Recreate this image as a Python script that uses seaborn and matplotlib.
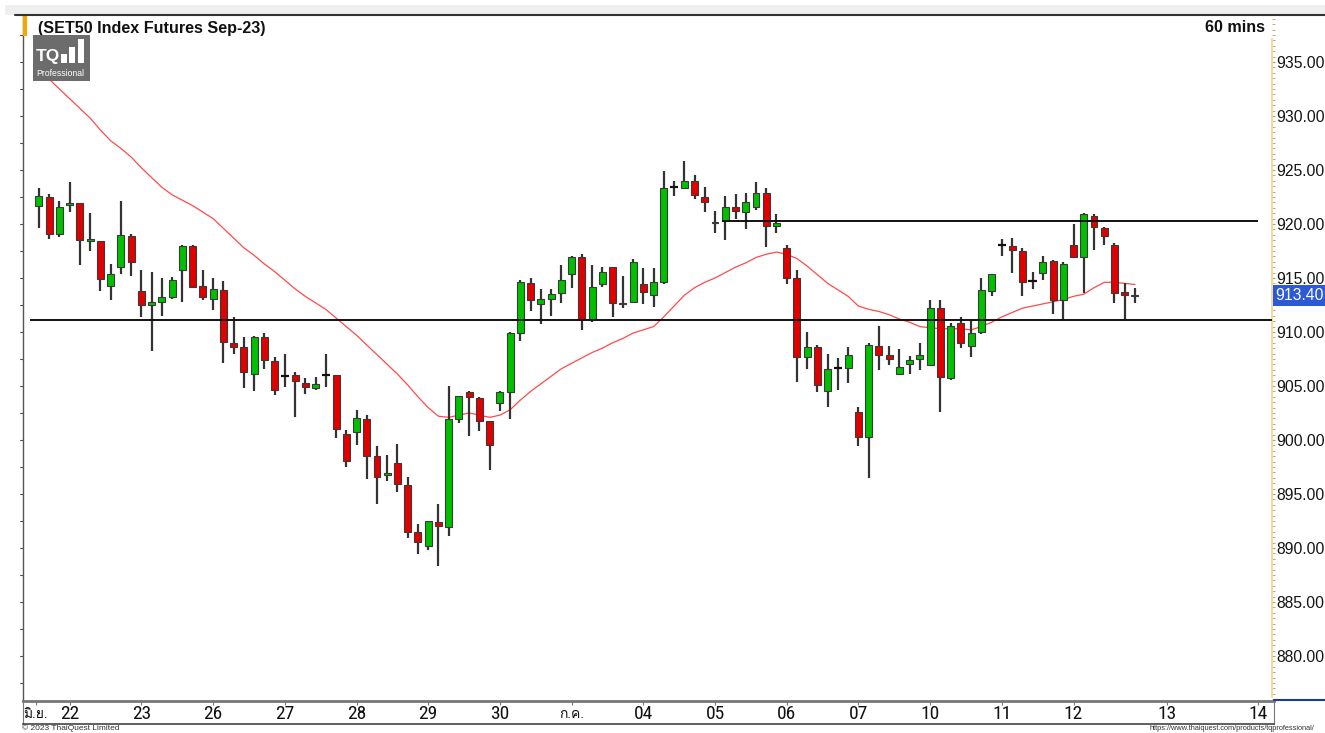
import numpy as np
import pandas as pd
import seaborn as sns
import matplotlib
matplotlib.use("Agg")
import matplotlib.pyplot as plt
from matplotlib import font_manager
from matplotlib.ft2font import FT2Font
from matplotlib.patches import Rectangle
from matplotlib.lines import Line2D
import matplotlib.transforms as mtransforms

# ---------------- data ----------------
opens = [921.7, 922.5, 919.1, 921.8, 921.9, 918.4, 918.4, 914.3, 916.0, 918.9,
         913.8, 912.5, 912.8, 913.2, 915.7, 918.0, 914.3, 913.1, 913.9, 909.0,
         908.6, 906.1, 909.5, 907.3, 905.9, 906.0, 905.3, 904.8, 906.0, 906.0,
         900.6, 900.7, 901.9, 898.5, 896.8, 897.9, 895.8, 891.5, 890.2, 892.4,
         891.9, 901.9, 904.4, 903.9, 901.8, 903.4, 904.4, 909.9, 914.5, 912.6,
         913.1, 913.6, 915.4, 916.9, 911.2, 914.4, 916.0, 912.6, 912.8, 914.4,
         913.4, 914.6, 923.4, 923.3, 924.0, 922.5, 920.1, 920.3, 921.6, 921.1,
         921.6, 922.9, 919.8, 917.8, 915.0, 907.7, 908.6, 904.5, 906.7, 906.7,
         902.6, 900.3, 908.7, 907.9, 906.1, 907.0, 907.5, 906.9, 912.2, 905.7,
         910.8, 908.7, 910.0, 913.8, 918.1, 918.0, 917.5, 914.7, 915.5, 916.6,
         913.0, 918.1, 916.9, 920.7, 919.6, 918.1, 913.7, 913.3]
highs = [923.3, 922.8, 922.1, 923.9, 921.9, 921.0, 918.4, 916.3, 922.1, 919.1,
         915.7, 915.6, 915.0, 915.1, 918.1, 918.1, 915.7, 915.0, 914.7, 911.4,
         909.5, 909.6, 909.9, 907.7, 908.0, 906.3, 905.7, 905.8, 908.0, 906.0,
         900.9, 902.8, 902.3, 899.4, 898.6, 899.6, 896.6, 892.2, 892.5, 894.1,
         905.0, 904.1, 904.5, 904.0, 901.8, 904.5, 910.0, 914.8, 915.0, 914.0,
         914.0, 916.2, 917.0, 917.2, 916.2, 916.0, 916.0, 915.2, 916.8, 915.9,
         915.9, 924.9, 924.0, 925.8, 924.5, 923.4, 921.2, 922.6, 922.8, 922.9,
         923.9, 923.3, 920.9, 918.1, 915.7, 910.0, 908.8, 908.0, 907.6, 908.6,
         903.1, 909.0, 910.6, 908.7, 908.4, 907.8, 909.0, 913.0, 913.0, 910.8,
         911.4, 911.1, 915.0, 915.4, 918.6, 918.7, 917.8, 915.6, 917.0, 916.7,
         916.5, 920.0, 921.0, 920.9, 919.7, 918.2, 914.5, 914.1]
lows = [919.6, 918.6, 918.8, 921.1, 916.2, 917.5, 913.8, 913.0, 915.4, 915.2,
        911.4, 908.2, 911.5, 913.1, 912.8, 914.2, 913.0, 912.0, 907.1, 908.0,
        904.8, 904.5, 906.6, 904.2, 904.9, 902.1, 904.3, 904.6, 904.9, 900.2,
        897.5, 899.5, 896.4, 894.1, 896.2, 895.2, 890.9, 889.4, 889.8, 888.3,
        891.1, 901.6, 900.4, 900.8, 897.2, 902.7, 901.9, 909.2, 911.9, 910.7,
        911.5, 912.7, 914.1, 910.2, 910.9, 914.2, 911.4, 912.2, 912.7, 912.6,
        912.3, 914.4, 922.6, 923.3, 922.3, 921.1, 919.2, 918.5, 920.5, 919.5,
        921.3, 917.9, 919.2, 914.4, 905.4, 906.6, 904.4, 903.1, 904.6, 905.3,
        899.4, 896.5, 906.5, 906.9, 906.1, 906.1, 906.5, 906.9, 902.6, 905.6,
        908.5, 907.7, 909.8, 913.3, 917.0, 915.5, 913.3, 914.0, 914.8, 911.7,
        911.1, 916.9, 913.6, 917.6, 918.1, 912.7, 911.2, 912.7]
closes = [922.6, 919.1, 921.6, 921.9, 918.5, 918.6, 914.9, 915.4, 919.0, 916.5,
          912.5, 912.8, 913.2, 914.8, 918.0, 914.2, 913.2, 914.0, 909.1, 908.6,
          906.3, 909.5, 907.4, 904.6, 905.9, 905.5, 904.9, 905.2, 906.0, 901.0,
          898.1, 902.0, 898.5, 896.6, 896.9, 895.9, 891.5, 890.6, 892.5, 892.0,
          901.9, 904.1, 904.0, 901.8, 899.5, 904.4, 909.9, 914.6, 913.0, 913.1,
          913.5, 914.8, 916.9, 911.2, 914.2, 915.6, 912.7, 912.7, 916.5, 913.7,
          914.6, 923.3, 923.4, 924.0, 922.7, 922.0, 920.2, 921.6, 921.2, 922.0,
          922.9, 919.8, 920.1, 915.0, 907.7, 908.6, 905.1, 906.6, 906.7, 907.9,
          900.3, 908.8, 907.9, 907.5, 906.8, 907.4, 907.9, 912.2, 905.8, 910.6,
          909.0, 909.9, 913.9, 915.4, 918.1, 917.6, 914.6, 914.7, 916.5, 913.0,
          916.3, 916.9, 920.9, 919.7, 918.9, 913.6, 913.4, 913.4]
ma_values = [934.7, 933.4, 932.5, 931.6, 930.7, 929.8, 928.7, 927.7, 927.0, 926.2,
             925.2, 924.3, 923.4, 922.7, 922.2, 921.7, 921.1, 920.5, 919.6, 918.7,
             917.8, 917.1, 916.3, 915.6, 914.8, 914.0, 913.3, 912.7, 912.1, 911.3,
             910.5, 909.7, 908.8, 907.9, 907.0, 906.1, 905.1, 904.0, 903.0, 902.2,
             902.1, 902.3, 902.5, 902.3, 902.1, 902.3, 902.8, 903.7, 904.5, 905.2,
             905.9, 906.6, 907.1, 907.6, 908.1, 908.5, 909.0, 909.4, 909.9, 910.2,
             910.5, 911.4, 912.4, 913.4, 914.1, 914.6, 915.0, 915.5, 916.0, 916.4,
             916.9, 917.2, 917.4, 917.2, 916.8, 916.1, 915.3, 914.5, 913.9, 913.3,
             912.4, 912.1, 911.9, 911.6, 911.2, 910.9, 910.5, 910.4, 910.3, 910.3,
             910.3, 910.2, 910.5, 910.9, 911.4, 911.8, 912.2, 912.4, 912.6, 912.8,
             913.0, 913.3, 913.5, 914.1, 914.6, 914.6, 914.5, 914.4]
tick_labels = ["มิ.ย.", "22", "23", "26", "27", "28", "29", "30", "ก.ค.",
               "04", "05", "06", "07", "10", "11", "12", "13", "14"]
tick_bars = [-0.3, 3, 10, 17, 24, 31, 38, 45, 52, 59, 66, 73, 80, 87, 94, 101, 110.1, 119.0]
price_ticks = [880, 885, 890, 895, 900, 905, 910, 915, 920, 925, 930, 935]
support_level = 911.1
resistance_level = 920.3
last_price = 913.40

df = pd.DataFrame({"open": opens, "high": highs, "low": lows, "close": closes,
                   "ma": ma_values})
df["bar"] = np.arange(len(df))

# ---------------- fonts ----------------
sns.set_style("white")
names = {f.name for f in font_manager.fontManager.ttflist}
thai_fams = []
for f in font_manager.fontManager.ttflist:
    try:
        if f.name not in thai_fams and 0x0E01 in FT2Font(f.fname).get_charmap():
            thai_fams.append(f.name)
    except Exception:
        pass
base = "Liberation Sans" if "Liberation Sans" in names else "DejaVu Sans"
narrow = base
for cand in ["Liberation Sans Narrow", "DejaVu Sans Condensed", "Roboto Condensed"]:
    if cand in names:
        narrow = cand
        break
plt.rcParams["font.family"] = [base] + thai_fams[:2] + ["DejaVu Sans"]

W, H = 1325, 733
def fr(x0, y0, x1, y1):
    return [x0 / W, 1 - y1 / H, (x1 - x0) / W, (y1 - y0) / H]

fig = plt.figure(figsize=(W / 100, H / 100), dpi=100, facecolor="white")

# top gray band
fig.add_artist(Rectangle((5 / W, 1 - 15 / H), 1, 10 / H, transform=fig.transFigure,
                         facecolor="#efefef", edgecolor="none", zorder=0))

ax = fig.add_axes(fr(23, 15, 1272, 701))
ymin = 935 - (701 - 62) / 10.8
ymax = 935 + (62 - 15) / 10.8
xmin = -1.56
xmax = xmin + (1272 - 23) / 10.243
ax.set_xlim(xmin, xmax)
ax.set_ylim(ymin, ymax)
ax.set_facecolor("white")

# moving average
sns.lineplot(data=df, x="bar", y="ma", ax=ax, color="#ff4a4a", linewidth=0.9,
             zorder=2, legend=False)

# candles
up = df["close"] > df["open"]
down = df["close"] < df["open"]
flat = ~(up | down)
ax.vlines(df["bar"], df["low"], df["high"], color="#333333", linewidth=1.6, zorder=3)
body_colors = np.where(up, "#00c000", "#e00000")
bm = up | down
ax.bar(df["bar"][bm], (df["close"] - df["open"]).abs()[bm],
       bottom=np.minimum(df["open"], df["close"])[bm], width=0.68,
       color=body_colors[bm.values], edgecolor="#3a3a3a", linewidth=0.8, zorder=4)
ax.hlines(df["close"][flat], df["bar"][flat] - 0.4, df["bar"][flat] + 0.4,
          color="#111111", linewidth=1.6, zorder=4)

# horizontal levels
ax.hlines(support_level, -0.85, xmax, color="#111111", linewidth=1.4, zorder=5)
ax.hlines(resistance_level, 66.7, 119.0, color="#111111", linewidth=1.4, zorder=5)

# y axis on right
ax.yaxis.set_ticks_position("right")
ax.set_yticks(price_ticks)
ax.set_yticklabels([f"{v:.2f}" for v in price_ticks])
ax.set_yticks(np.arange(876, 939.5, 0.5), minor=True)
ax.tick_params(axis="y", which="major", labelleft=False, labelright=True,
               labelsize=11.3, labelcolor="#151515", length=2.5, width=0.8,
               color="#b8a060", direction="out", pad=0.8)
ax.tick_params(axis="y", which="minor", length=2, width=0.6, color="#b8a060",
               direction="out")
ax.set_xticks([])
ax.set_xlabel("")
ax.set_ylabel("")
for s in ["top", "bottom"]:
    ax.spines[s].set_visible(False)
ax.spines["left"].set_color("#555555")
ax.spines["left"].set_linewidth(1.0)
ax.spines["right"].set_color("#f2d48a")
ax.spines["right"].set_linewidth(1.2)
ax.spines["right"].set_bounds(935 - (697 - 62) / 10.8, 935 + (62 - 39) / 10.8)

# small ticks along the left edge
lt = mtransforms.blended_transform_factory(ax.transAxes, ax.transData)
for v in np.arange(877.5, 939.0, 2.5):
    ax.add_line(Line2D([-0.0025, 0.0], [v, v], transform=lt, color="#555555",
                       linewidth=0.8, clip_on=False))

# last price tag
bt = mtransforms.blended_transform_factory(fig.transFigure, ax.transData)
ax.add_patch(Rectangle((1273 / W, last_price - 0.95), 60 / W, 1.9, transform=bt,
                       facecolor="#2c5ad6", edgecolor="none", clip_on=False, zorder=6))
ax.text(1275 / W, last_price, f"{last_price:.2f}", transform=bt, color="white",
        fontsize=11.3, va="center", ha="left", clip_on=False, zorder=7)

# top frame line, orange marker
fig.add_artist(Line2D([15 / W, 1], [1 - 15 / H, 1 - 15 / H], transform=fig.transFigure,
                      color="#333333", linewidth=1.5))
fig.add_artist(Rectangle((23 / W, 1 - 36 / H), 4 / W, 21 / H, transform=fig.transFigure,
                         facecolor="#f7a600", edgecolor="none"))
fig.text(38 / W, 1 - 28 / H, "(SET50 Index Futures Sep-23)", fontsize=11.6,
         fontweight="bold", va="center", ha="left", color="#111111")
fig.text(1265 / W, 1 - 28 / H, "60 mins", fontsize=11.6, fontweight="bold",
         va="center", ha="right", color="#111111")

# logo
fig.add_artist(Rectangle((33 / W, 1 - 81 / H), 57 / W, 46 / H, transform=fig.transFigure,
                         facecolor="#6c6c6c", edgecolor="none", zorder=8))
fig.text(36 / W, 1 - 57 / H, "TQ", fontsize=12.5, fontweight="bold", color="white",
         va="center", ha="left", zorder=9)
for (x0, y0, hgt) in [(61, 63, 9), (69, 63, 16), (78, 63, 24)]:
    fig.add_artist(Rectangle((x0 / W, 1 - y0 / H), 6 / W, hgt / H,
                             transform=fig.transFigure, facecolor="white",
                             edgecolor="none", zorder=9))
fig.text(36 / W, 1 - 74 / H, "Professional", fontsize=6.2, color="white",
         va="center", ha="left", zorder=9)

# bottom date strip
ax2 = fig.add_axes(fr(23, 701, 1274, 724))
ax2.set_xlim(xmin, xmin + (1274 - 23) / 10.243)
ax2.set_ylim(0, 1)
ax2.set_yticks([])
ax2.set_xticks(tick_bars)
ax2.set_xticklabels([])
ax2.tick_params(axis="x", top=True, bottom=False, direction="in", length=3,
                color="#777777")
for s in ["top", "bottom", "left", "right"]:
    ax2.spines[s].set_color("#777777")
ax2.spines["top"].set_linewidth(2.0)
ax2.spines["bottom"].set_linewidth(1.2)
ax2.spines["bottom"].set_color("#444444")
for pos, lab in zip(tick_bars, tick_labels):
    is_thai = not lab.isdigit()
    ax2.text(pos, 0.42, lab, ha="center", va="center",
             fontsize=10 if is_thai else 14,
             family=([narrow] + thai_fams[:2] + ["DejaVu Sans"]),
             color="#111111")

# blue line at right bottom
fig.add_artist(Line2D([1274 / W, 1], [1 - 700 / H, 1 - 700 / H], transform=fig.transFigure,
                      color="#1a3aa0", linewidth=1.5))

fig.text(22 / W, 1 - 728.5 / H, "© 2023 ThaiQuest Limited", fontsize=6,
         color="#333333", va="center", ha="left")
fig.text(1150 / W, 1 - 728.5 / H, "https://www.thaiquest.com/products/tqprofessional/",
         fontsize=5.3, color="#333333", va="center", ha="left")

fig.savefig("out.png", dpi=100, facecolor="white")
